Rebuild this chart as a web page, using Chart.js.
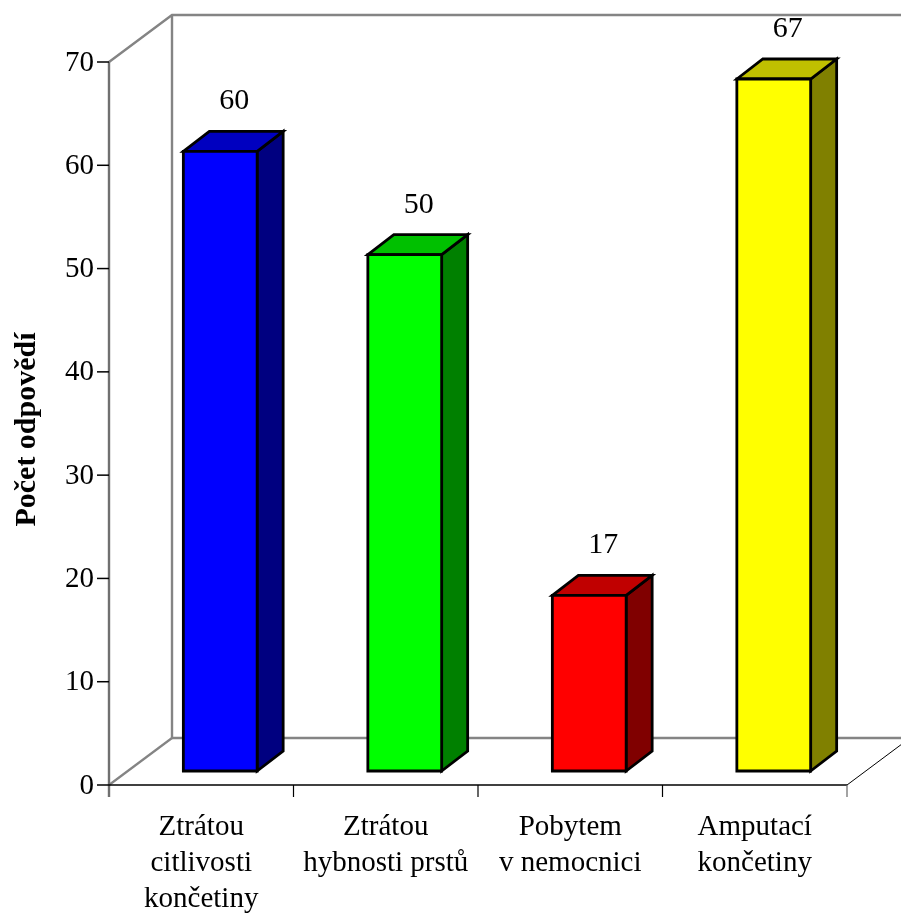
<!DOCTYPE html>
<html>
<head>
<meta charset="utf-8">
<script src="https://cdn.jsdelivr.net/npm/chart.js@4.4.0/dist/chart.umd.min.js"></script>
<style>
  html, body { margin: 0; padding: 0; background: #fff; }
  #wrap { width: 901px; height: 917px; }
</style>
</head>
<body>
<div id="wrap"><canvas id="chart" width="901" height="917"></canvas></div>
<script>
// data
var categories = [
  ['Ztrátou', 'citlivosti', 'končetiny'],
  ['Ztrátou', 'hybnosti prstů'],
  ['Pobytem', 'v nemocnici'],
  ['Amputací', 'končetiny']
];
var responses = [60, 50, 17, 67];
var yMin = 0, yMax = 70, yStep = 10;
var yTitle = 'Počet odpovědí';

var frontColors = ['#0000ff', '#00ff00', '#ff0000', '#ffff00'];
var topColors = ['#0000c0', '#00c000', '#c00000', '#c0c000'];
var sideColors = ['#000080', '#008000', '#800000', '#808000'];

var FONT = '"Liberation Serif", "Times New Roman", serif';
// 3d depth of the floor and of the bars
var depth = { dx: 63, dy: -47 };
var barShift = { dx: 19, dy: -14 };
var barDepth = { dx: 26, dy: -20 };

function line(ctx, pts, color, w) {
  ctx.beginPath();
  ctx.moveTo(pts[0][0], pts[0][1]);
  for (var i = 1; i < pts.length; i++) ctx.lineTo(pts[i][0], pts[i][1]);
  ctx.strokeStyle = color;
  ctx.lineWidth = w;
  ctx.stroke();
}

function poly(ctx, pts, fill) {
  ctx.beginPath();
  ctx.moveTo(pts[0][0], pts[0][1]);
  for (var i = 1; i < pts.length; i++) ctx.lineTo(pts[i][0], pts[i][1]);
  ctx.closePath();
  ctx.fillStyle = fill;
  ctx.fill();
  ctx.strokeStyle = '#000';
  ctx.lineWidth = 2.8;
  ctx.lineJoin = 'miter';
  ctx.stroke();
}

var box3d = {
  id: 'box3d',
  beforeDatasetsDraw: function(chart) {
    var ctx = chart.ctx, a = chart.chartArea;
    var xs = chart.scales.x, ys = chart.scales.y;
    var L = a.left, R = a.right, T = a.top, B = a.bottom;
    var dx = depth.dx, dy = depth.dy;
    ctx.save();
    ctx.lineCap = 'butt';
    // back wall + floor
    line(ctx, [[L, T], [L + dx, T + dy], [R + dx + 40, T + dy]], '#848484', 2.4);
    line(ctx, [[L + dx, T + dy], [L + dx, B + dy], [R + dx, B + dy]], '#848484', 2.4);
    line(ctx, [[L, B], [L + dx, B + dy]], '#848484', 2.2);
    line(ctx, [[R, B], [R + dx, B + dy]], '#000', 1);
    // front axes
    line(ctx, [[L, T], [L, B + 12]], '#707070', 2.4);
    line(ctx, [[L, B], [R, B]], '#000', 1.6);
    // y ticks + labels
    ctx.font = '29px ' + FONT;
    ctx.fillStyle = '#000';
    ctx.textAlign = 'right';
    ctx.textBaseline = 'middle';
    ys.ticks.forEach(function(t) {
      var y = ys.getPixelForValue(t.value);
      line(ctx, [[L - 12, y], [L, y]], '#000', 1.5);
      ctx.fillText(String(t.value), L - 15, y + 1);
    });
    // x ticks at category boundaries
    var n = categories.length;
    for (var i = 1; i <= n; i++) {
      var xb = xs.getPixelForValue(i - 0.5);
      line(ctx, [[xb, B], [xb, B + 12]], i === n ? '#666' : '#000', 1.2);
    }
    ctx.restore();
  },
  afterDatasetsDraw: function(chart) {
    var ctx = chart.ctx;
    var meta = chart.getDatasetMeta(0);
    ctx.save();
    meta.data.forEach(function(bar, i) {
      var hw = bar.width / 2;
      var x0 = bar.x - hw + barShift.dx, x1 = bar.x + hw + barShift.dx;
      var yt = bar.y + barShift.dy, yb = bar.base + barShift.dy;
      var ddx = barDepth.dx, ddy = barDepth.dy;
      poly(ctx, [[x1, yt], [x1 + ddx, yt + ddy], [x1 + ddx, yb + ddy], [x1, yb]], sideColors[i]);
      poly(ctx, [[x0, yt], [x0 + ddx, yt + ddy], [x1 + ddx, yt + ddy], [x1, yt]], topColors[i]);
      poly(ctx, [[x0, yt], [x1, yt], [x1, yb], [x0, yb]], frontColors[i]);
      // value label
      ctx.font = '30px ' + FONT;
      ctx.fillStyle = '#000';
      ctx.textAlign = 'center';
      ctx.textBaseline = 'alphabetic';
      ctx.fillText(String(responses[i]), bar.x + barShift.dx + 14, yt + ddy - 22);
    });
    ctx.restore();
  },
  afterDraw: function(chart) {
    var ctx = chart.ctx, a = chart.chartArea;
    var xs = chart.scales.x;
    ctx.save();
    ctx.fillStyle = '#000';
    ctx.font = '29px ' + FONT;
    ctx.textAlign = 'center';
    ctx.textBaseline = 'alphabetic';
    categories.forEach(function(lines, i) {
      var x = xs.getPixelForValue(i);
      lines.forEach(function(s, k) {
        ctx.fillText(s, x, a.bottom + 50 + k * 36);
      });
    });
    // y axis title
    ctx.translate(27, (a.top + a.bottom) / 2 + 6);
    ctx.rotate(-Math.PI / 2);
    ctx.font = 'bold 30px ' + FONT;
    ctx.textBaseline = 'middle';
    ctx.fillText(yTitle, 0, 0);
    ctx.restore();
  }
};

var ctx = document.getElementById('chart').getContext('2d');
var chart = new Chart(ctx, {
  type: 'bar',
  data: {
    labels: categories,
    datasets: [{
      data: responses,
      backgroundColor: 'rgba(0,0,0,0)',
      borderWidth: 0,
      barPercentage: 1,
      categoryPercentage: 0.4
    }]
  },
  options: {
    responsive: false,
    animation: false,
    devicePixelRatio: 1,
    layout: { padding: { left: 109, right: 54, top: 62, bottom: 132 } },
    plugins: { legend: { display: false }, tooltip: { enabled: false } },
    scales: {
      x: { display: false },
      y: { display: false, min: yMin, max: yMax, ticks: { stepSize: yStep } }
    }
  },
  plugins: [box3d]
});
</script>
</body>
</html>
